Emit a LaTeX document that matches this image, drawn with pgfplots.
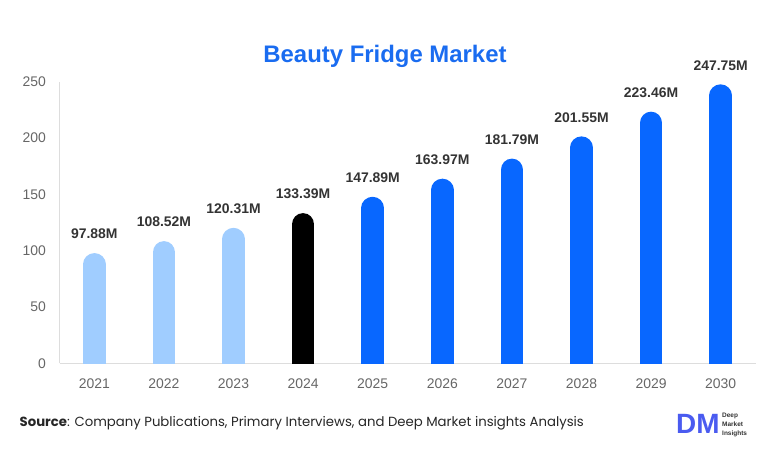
\documentclass[border=0pt]{standalone}
\usepackage{fontspec}
\setmainfont{Liberation Sans}
\newfontfamily\srcfont{Poppins}
\usepackage{pgfplots}
\pgfplotsset{compat=1.18}
\definecolor{lblue}{HTML}{A0CDFF}
\definecolor{mblue}{HTML}{0867FF}
\definecolor{tblue}{HTML}{1A6CF0}
\definecolor{axgray}{HTML}{DDDDDD}
\definecolor{tickgray}{HTML}{666666}
\definecolor{lbl}{HTML}{333333}
\definecolor{logob}{HTML}{4A5BF0}
\begin{document}
\begin{tikzpicture}
\useasboundingbox (0,0) rectangle (776bp,472bp);
\begin{axis}[
  at={(59.5bp,108.7bp)}, anchor=south west,
  scale only axis, width=696bp, height=281.5bp,
  xmin=-0.5, xmax=9.5, ymin=0, ymax=250,
  axis lines=left,
  axis line style={draw=axgray, line width=1bp, -},
  major tick length=0pt,
  ytick={0,50,...,250},
  xtick={0,...,9},
  xticklabels={2021,2022,2023,2024,2025,2026,2027,2028,2029,2030},
  /pgf/number format/assume math mode=true,
  tick label style={font=\fontsize{14}{14}\selectfont, text=tickgray},
  yticklabel style={anchor=east, inner sep=0pt, xshift=-13.5bp},
  xticklabel style={anchor=north, inner sep=0pt, yshift=-15.5bp},
  clip=true,
  nodes near coords={\pgfmathprintnumber[fixed,precision=2,fixed zerofill]{\pgfplotspointmeta}M},
  every node near coord/.append style={font=\bfseries\fontsize{14}{14}\selectfont, text=lbl, anchor=south, inner sep=0pt, yshift=14bp},
]
\addplot[ycomb, draw=lblue, line width=22.6bp, line cap=round, yshift=-11.3bp] coordinates {(0,97.88) (1,108.52) (2,120.31)};
\addplot[ycomb, draw=black, line width=22.6bp, line cap=round, yshift=-11.3bp] coordinates {(3,133.39)};
\addplot[ycomb, draw=mblue, line width=22.6bp, line cap=round, yshift=-11.3bp] coordinates {(4,147.89) (5,163.97) (6,181.79) (7,201.55) (8,223.46) (9,247.75)};
\end{axis}
\node[anchor=base, font=\bfseries\fontsize{24}{24}\selectfont, text=tblue] at (385bp,409.7bp) {Beauty Fridge Market};
\node[anchor=base west, inner sep=0pt, font=\srcfont\fontsize{13.3}{13.3}\selectfont, text=black!85] at (19.5bp,45.3bp) {\textbf{Source}: Company Publications, Primary Interviews, and Deep Market insights Analysis};
\node[anchor=west, inner sep=0pt, font=\bfseries\fontsize{28}{28}\selectfont, text=logob] at (676bp,48bp) {DM};
\node[anchor=base west, inner sep=0pt, font=\bfseries\fontsize{6.5}{6.5}\selectfont, text=lbl] at (722bp,54.5bp) {Deep};
\node[anchor=base west, inner sep=0pt, font=\bfseries\fontsize{6.5}{6.5}\selectfont, text=lbl] at (722bp,45.5bp) {Market};
\node[anchor=base west, inner sep=0pt, font=\bfseries\fontsize{6.5}{6.5}\selectfont, text=lbl] at (722bp,36.5bp) {Insights};
\end{tikzpicture}
\end{document}
